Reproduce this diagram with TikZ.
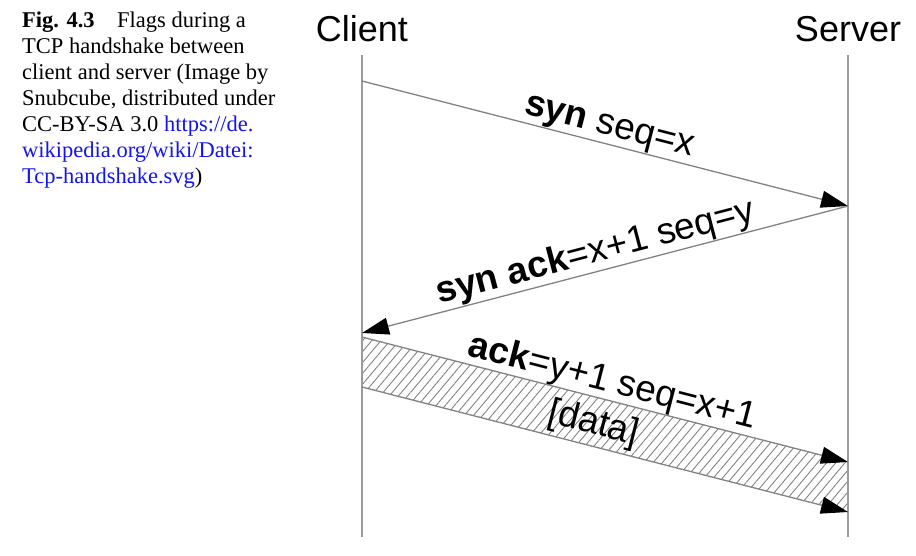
\documentclass[tikz,border=0pt]{standalone}
\usepackage{fontspec}
\setmainfont{Liberation Serif}
\newfontfamily\arialfont{Liberation Sans}
\usetikzlibrary{arrows.meta,patterns.meta}
\definecolor{linkblue}{RGB}{20,20,235}
\definecolor{msggray}{RGB}{130,130,130}
\tikzset{
  lifeline/.style={draw=msggray!80, line width=1.1pt},
  msg/.style={draw=msggray, line width=1.3pt, -{Triangle[length=27pt,width=17pt,color=black,fill=black]}},
  head/.style={font=\arialfont\fontsize{36}{40}\selectfont, inner sep=0pt, anchor=base},
  lbl/.style={font=\arialfont\fontsize{37}{40}\selectfont, inner sep=0pt, sloped},
  caption/.style={font=\fontsize{22.5}{26}\selectfont, inner sep=0pt, anchor=north west, align=left}
}
\begin{document}
\begin{tikzpicture}[x=1pt,y=-1pt]
\useasboundingbox (0,0) rectangle (916,555);
% caption
\node[caption] (cap) at (22,12) {\textbf{Fig. 4.3}\quad Flags during a\\
TCP handshake between\\
client and server (Image by\\
Snubcube, distributed under\\
CC-BY-SA 3.0 \textcolor{linkblue}{https://de.}\\
\textcolor{linkblue}{wikipedia.org/wiki/Datei:}\\
\textcolor{linkblue}{Tcp-handshake.svg})};
% heads
\node[head] (client) at (362,41) {Client};
\node[head] (server) at (848,41) {Server};
% lifeline ends
\coordinate (ctop) at (362,55);
\coordinate (cbot) at (362,537);
\coordinate (stop) at (848,55);
\coordinate (sbot) at (848,537);
% message points
\coordinate (c1) at (362,81);
\coordinate (s1) at (848,206);
\coordinate (c2) at (362,333);
\coordinate (c3a) at (362,337);
\coordinate (s3a) at (848,462);
\coordinate (c3b) at (362,387);
\coordinate (s3b) at (848,512);
% hatched band
\path[pattern={Lines[angle=50,distance=7pt,line width=0.9pt]}, pattern color=msggray]
  (c3a) -- (s3a) -- (s3b) -- (c3b) -- cycle;
\draw[lifeline] (ctop) -- (cbot);
\draw[lifeline] (stop) -- (sbot);
% messages
\draw[msg] (c1) -- node[lbl, pos=0.5, above=0.5pt] (l1) {\textbf{syn} seq=x} (s1);
\draw[msg] (s1) -- node[lbl, pos=0.51, above=0.5pt] (l2) {\textbf{syn ack}=x+1 seq=y} (c2);
\draw[msg] (c3a) -- node[lbl, pos=0.506, above=0pt] (l3) {\textbf{ack}=y+1 seq=x+1} (s3a);
\draw[msg] (c3b) -- (s3b);
\path (c3a) -- node[lbl, pos=0.49, yshift=-27pt] (l4) {[data]} (s3a);
\end{tikzpicture}
\end{document}
